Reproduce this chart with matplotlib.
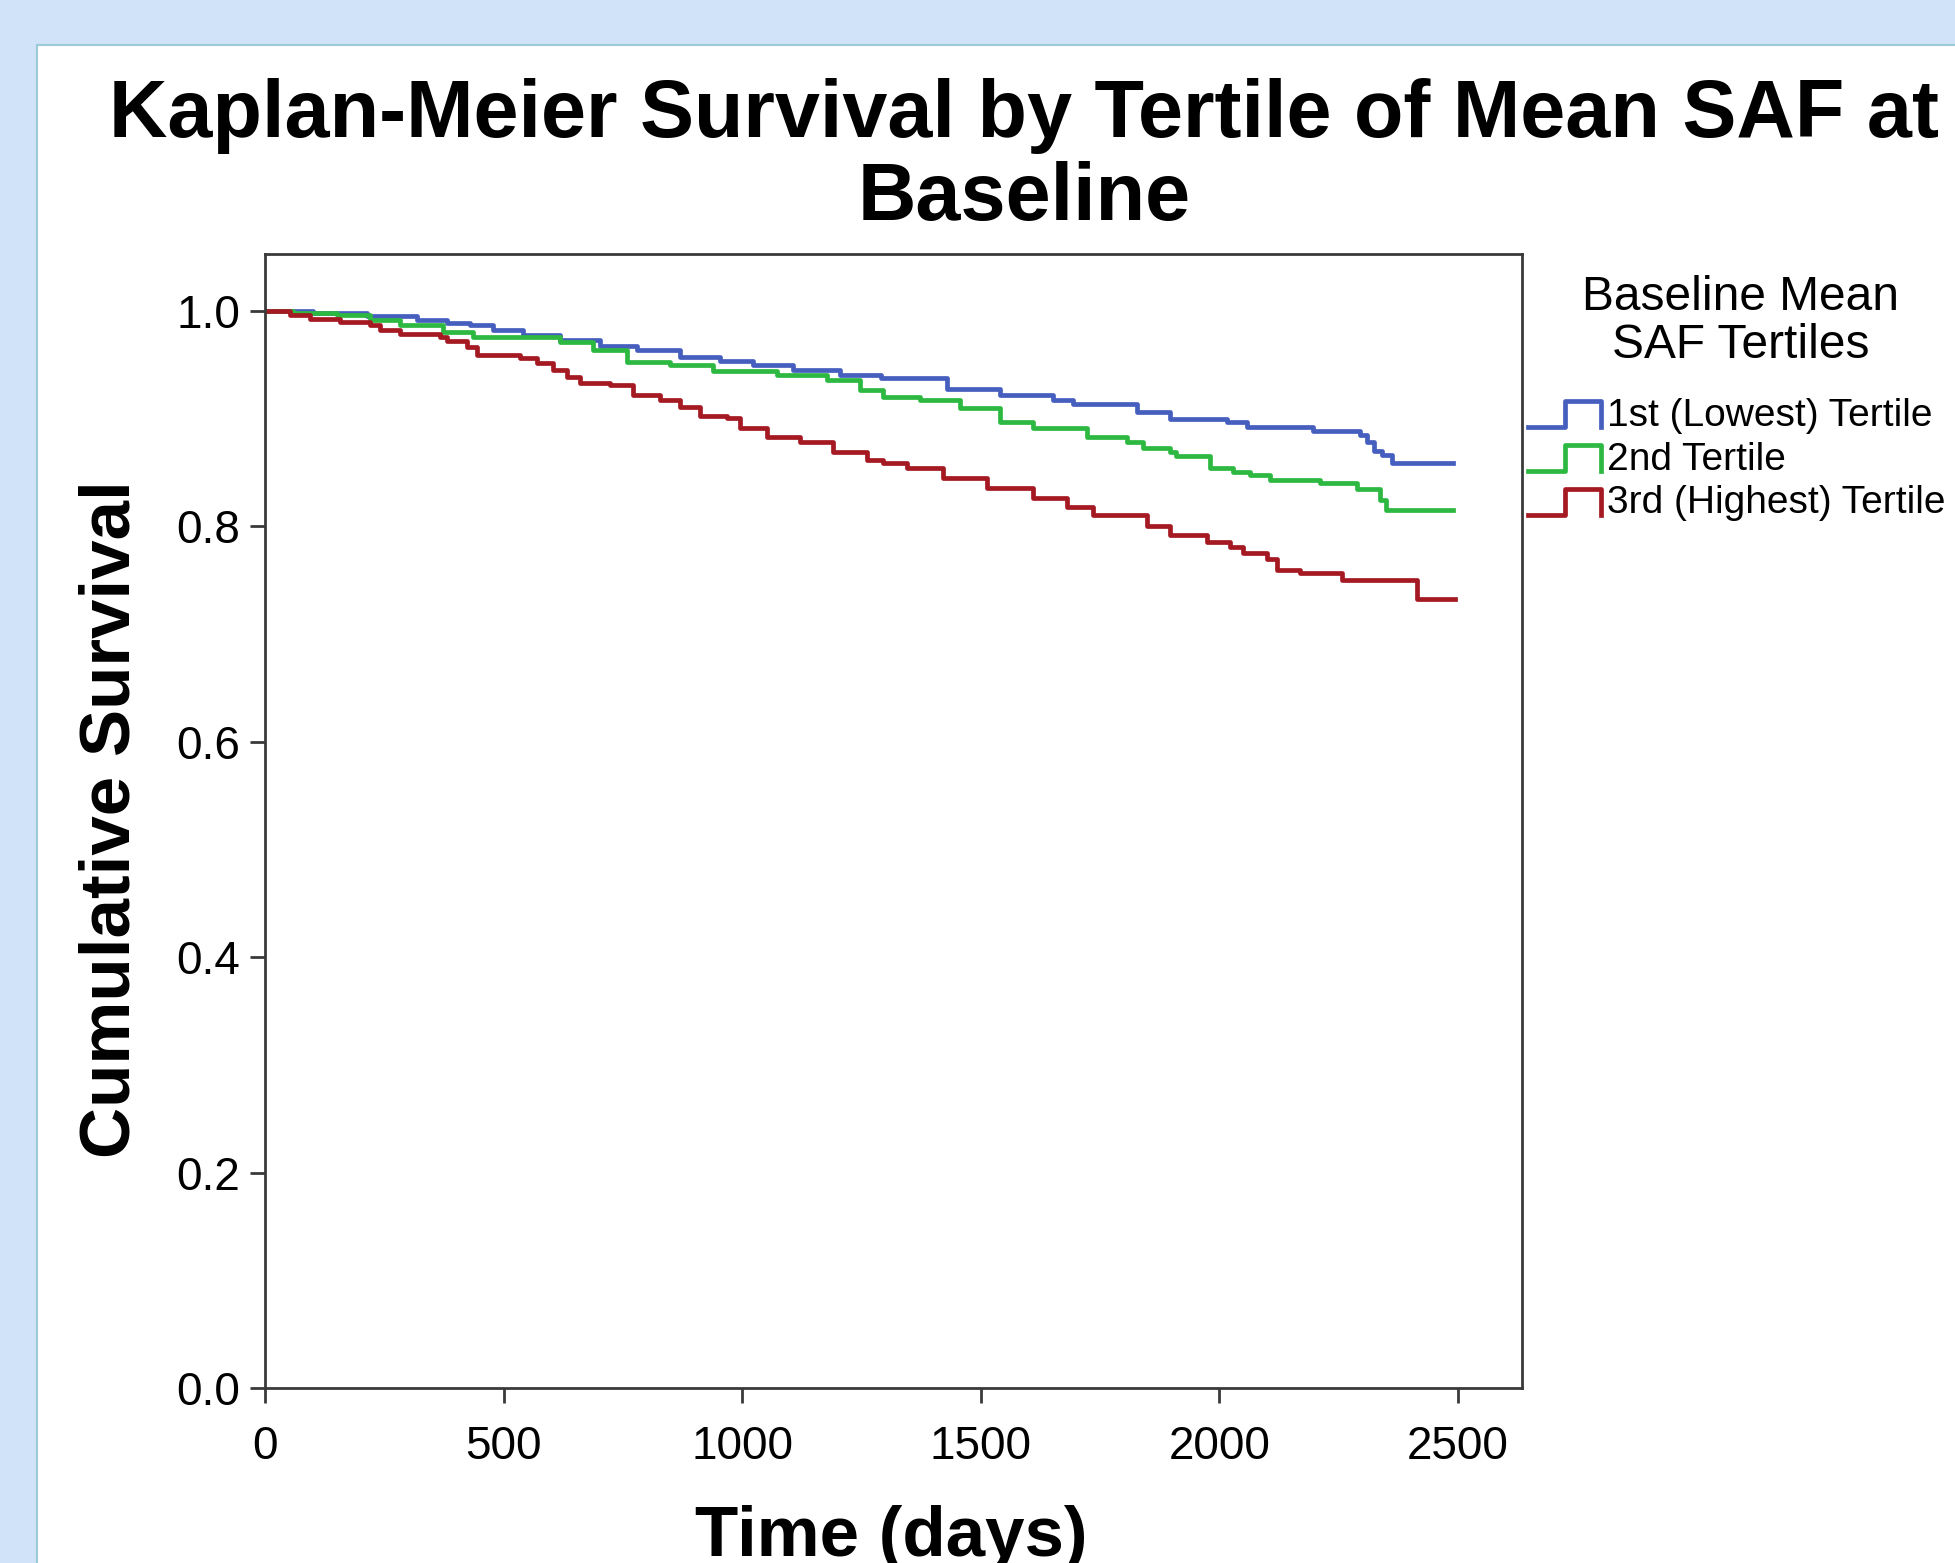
import matplotlib
matplotlib.use("Agg")
import matplotlib.pyplot as plt
from matplotlib.patches import Rectangle
from matplotlib.lines import Line2D
from matplotlib.legend_handler import HandlerBase

plt.rcParams['font.family'] = ['Liberation Sans', 'DejaVu Sans']

# Kaplan-Meier step data (days, cumulative survival)
t1_days = [0, 101, 213, 318, 381, 430, 478, 541, 618, 702, 779, 870, 953, 1023,
           1107, 1205, 1290, 1430, 1540, 1651, 1693, 1827, 1896, 2016, 2058,
           2196, 2295, 2310, 2325, 2340, 2361, 2490]
t1_surv = [1.0, 0.998, 0.995, 0.992, 0.989, 0.987, 0.982, 0.978, 0.973, 0.968,
           0.964, 0.957, 0.954, 0.950, 0.945, 0.941, 0.938, 0.928, 0.922, 0.917,
           0.914, 0.906, 0.900, 0.897, 0.892, 0.889, 0.885, 0.878, 0.870, 0.866,
           0.859, 0.859]

t2_days = [0, 59, 151, 220, 283, 373, 436, 618, 687, 758, 849, 939, 1073, 1178,
           1247, 1295, 1373, 1456, 1540, 1609, 1722, 1806, 1840, 1896, 1910,
           1980, 2028, 2064, 2106, 2211, 2288, 2336, 2350, 2490]
t2_surv = [1.0, 0.998, 0.996, 0.992, 0.987, 0.981, 0.976, 0.971, 0.964, 0.953,
           0.950, 0.944, 0.941, 0.936, 0.927, 0.920, 0.917, 0.910, 0.897, 0.891,
           0.883, 0.878, 0.873, 0.869, 0.865, 0.854, 0.851, 0.848, 0.843, 0.840,
           0.835, 0.825, 0.815, 0.815]

t3_days = [0, 52, 94, 157, 220, 241, 283, 367, 381, 423, 444, 534, 570, 604,
           633, 660, 723, 772, 828, 870, 912, 968, 995, 1052, 1121, 1190, 1261,
           1295, 1345, 1421, 1513, 1609, 1680, 1735, 1848, 1896, 1973, 2022,
           2049, 2100, 2121, 2169, 2257, 2414, 2494]
t3_surv = [1.0, 0.996, 0.993, 0.990, 0.987, 0.982, 0.979, 0.976, 0.972, 0.967,
           0.959, 0.956, 0.952, 0.945, 0.939, 0.933, 0.931, 0.922, 0.917, 0.911,
           0.903, 0.901, 0.891, 0.883, 0.878, 0.869, 0.862, 0.859, 0.854, 0.845,
           0.836, 0.826, 0.818, 0.811, 0.800, 0.792, 0.786, 0.781, 0.775, 0.770,
           0.760, 0.757, 0.750, 0.733, 0.733]

labels = ['1st (Lowest) Tertile', '2nd Tertile', '3rd (Highest) Tertile']
colors = ['#465fbe', '#2db841', '#a51923']
x_ticks = [0, 500, 1000, 1500, 2000, 2500]
y_ticks = [0.0, 0.2, 0.4, 0.6, 0.8, 1.0]


class StepHandler(HandlerBase):
    """Legend key drawn as a little survival step."""
    def create_artists(self, legend, orig_handle, xdescent, ydescent,
                       width, height, fontsize, trans):
        x0, y0 = -xdescent, -ydescent
        lo, hi = y0 - 0.05 * height, y0 + 0.9 * height
        xs = [x0, x0 + 0.5 * width, x0 + 0.5 * width, x0 + width, x0 + width]
        ys = [lo, lo, hi, hi, lo]
        line = Line2D(xs, ys, color=orig_handle.get_color(),
                      lw=orig_handle.get_linewidth())
        line.set_transform(trans)
        return [line]


fig = plt.figure(figsize=(19.55, 15.63), dpi=100)
fig.patch.set_facecolor('#d0e3f8')
# white page panel behind everything
fig.patches.append(Rectangle((0.0189, -0.02), 1.0, 0.9912, transform=fig.transFigure,
                             facecolor='white', edgecolor='#9ccbd6', lw=1.5, zorder=-10))

ax = fig.add_axes([0.1355, 0.1120, 0.6430, 0.7255])

handles = []
for d, s, lab, c in zip([t1_days, t2_days, t3_days], [t1_surv, t2_surv, t3_surv], labels, colors):
    h, = ax.step(d, s, where='post', color=c, lw=3.4, label=lab)
    handles.append(h)

ax.set_xlim(0, 2634)
ax.set_ylim(0, 1.053)
ax.set_xticks(x_ticks)
ax.set_yticks(y_ticks)
ax.set_yticklabels([f'{v:.1f}' for v in y_ticks])
ax.tick_params(axis='both', direction='out', length=11, width=2, color='#3a3a3a',
               labelsize=33)
ax.tick_params(axis='y', pad=7)
ax.tick_params(axis='x', pad=16)
for sp in ax.spines.values():
    sp.set_color('#3a3a3a')
    sp.set_linewidth(2)

ax.set_ylabel('Cumulative Survival', fontsize=51, fontweight='bold')
ax.yaxis.label.set_verticalalignment('center')
ax.yaxis.set_label_coords(-0.1217, 0.502)
ax.set_xlabel('Time (days)', fontsize=51, fontweight='bold')
ax.xaxis.label.set_verticalalignment('baseline')
ax.xaxis.set_label_coords(0.498, -0.148)

fig.text(0.524, 1 - 116 / 1563, 'Kaplan-Meier Survival by Tertile of Mean SAF at',
         fontsize=58.3, fontweight='bold', ha='center', va='center')
fig.text(0.524, 1 - 199 / 1563, 'Baseline', fontsize=58.3, fontweight='bold',
         ha='center', va='center')

fig.text(0.8905, 1 - 297 / 1563, 'Baseline Mean', fontsize=34.5, ha='center', va='center')
fig.text(0.8905, 1 - 345 / 1563, 'SAF Tertiles', fontsize=34.5, ha='center', va='center')

leg = ax.legend(handles=handles, loc='upper left', bbox_to_anchor=(0.7816, 0.7454),
                bbox_transform=fig.transFigure, frameon=False, fontsize=28,
                borderpad=0, borderaxespad=0, handlelength=1.88, handletextpad=0.15,
                labelspacing=0.2, handler_map={Line2D: StepHandler()})

fig.savefig('out.png', dpi=100, facecolor=fig.get_facecolor())
